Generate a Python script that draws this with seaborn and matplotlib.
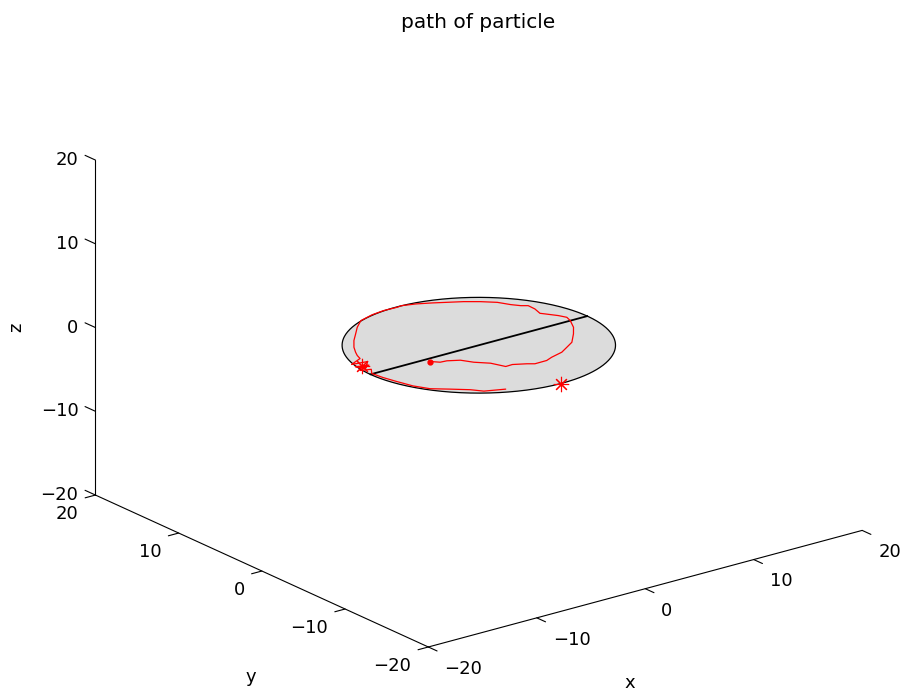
import numpy as np
import matplotlib
matplotlib.use("Agg")
import matplotlib.pyplot as plt
import seaborn as sns
from mpl_toolkits.mplot3d import proj3d
from mpl_toolkits.mplot3d.art3d import Poly3DCollection

sns.set_style("white")
plt.rcParams["font.family"] = ["DejaVu Sans"]
plt.rcParams["text.color"] = "black"

# ---- axes ranges and ticks -------------------------------------------------
axis_lo, axis_hi = -20, 20
tick_values = [-20, -10, 0, 10, 20]
tick_labels = ["\u221220", "\u221210", "0", "10", "20"]

# ---- circular domain at z = 0 ----------------------------------------------
disc_radius = 10.0
disc_z = 0.0

# diameter drawn across the disc
diam_x = [-10.0, 10.0]
diam_y = [0.0, 0.0]

# ---- particle path (starts at the dot) -------------------------------------
path_x = [-4.89, -4.40, -3.83, -2.97, -2.45, -1.60, -1.14, -0.50, 0.43, 0.90,
          2.00, 2.71, 3.93, 4.86, 5.78, 6.94, 7.78, 8.44, 8.66, 8.39,
          7.83, 7.61, 7.87, 7.90, 7.47, 7.02, 6.53, 5.64, 4.67, 3.61,
          2.67, 1.61, 0.55, 0.10, -1.12, -2.32, -3.72, -4.77, -5.70, -6.65,
          -7.50, -8.04, -8.36, -8.58, -9.83, -8.52, -9.52, -9.90, -8.90, -10.10,
          -9.30, -9.80, -9.67, -9.38, -8.99, -8.35, -7.24, -6.14, -5.54, -4.02]
path_y = [-0.53, -1.09, -1.16, -1.66, -2.59, -3.50, -4.72, -4.69, -5.21, -5.57,
          -5.55, -5.23, -4.85, -4.25, -3.65, -2.33, -1.24, 0.01, 0.71, 1.37,
          2.24, 2.57, 3.52, 4.36, 4.69, 5.31, 6.28, 7.15, 7.90, 8.53,
          9.09, 9.64, 10.00, 9.93, 9.98, 9.80, 9.33, 8.39, 7.37, 6.34,
          5.23, 4.33, 3.71, 3.09, 2.48, 2.25, 1.19, 1.90, 1.60, 1.10,
          0.80, 0.09, -1.06, -2.34, -3.81, -5.04, -6.00, -7.00, -7.83, -8.47]

# boundary hits marked with asterisks
hit_x = [-9.50, -0.10]
hit_y = [1.70, -10.00]

# ---- figure ----------------------------------------------------------------
W_PX, H_PX = 903, 693
fig = plt.figure(figsize=(W_PX / 100, H_PX / 100), dpi=100)
fig.patch.set_facecolor("white")
ax = fig.add_axes([0.1, 0.1, 0.8 * H_PX / W_PX, 0.8], projection="3d",
                  proj_type="ortho", computed_zorder=False)
ax.view_init(elev=20.5, azim=-127.5)
ax.set_box_aspect((1, 1, 0.654))
ax.set_xlim(axis_lo, axis_hi)
ax.set_ylim(axis_lo, axis_hi)
ax.set_zlim(axis_lo, axis_hi)
ax.set_axis_off()

# disc
theta = np.linspace(0, 2 * np.pi, 361)
cx = disc_radius * np.cos(theta)
cy = disc_radius * np.sin(theta)
cz = np.full_like(cx, disc_z)
disc = Poly3DCollection([list(zip(cx, cy, cz))], facecolor="#dcdcdc",
                        edgecolor="none", zorder=1)
ax.add_collection3d(disc)
ax.plot(cx, cy, cz, color="black", lw=0.9, zorder=2)
ax.plot(diam_x, diam_y, [disc_z, disc_z], color="black", lw=1.3, zorder=3)

# particle path and markers
pz = [disc_z] * len(path_x)
ax.plot(path_x, path_y, pz, color="red", lw=0.9, zorder=4)
ax.plot([path_x[0]], [path_y[0]], [disc_z], marker="o", ms=3.5,
        color="red", zorder=5)
ax.plot(hit_x, hit_y, [disc_z] * len(hit_x), ls="none", marker=(8, 2, 0),
        ms=11, mew=0.8, color="red", zorder=5)

# ---- box axes: x along front edge, y along left edge, z on the back-left ---
lo, hi = axis_lo, axis_hi
axis_kw = dict(color="black", lw=0.8, zorder=6, clip_on=False)
ax.plot([lo, hi], [lo, lo], [lo, lo], **axis_kw)
ax.plot([lo, lo], [lo, hi], [lo, lo], **axis_kw)
ax.plot([lo, lo], [hi, hi], [lo, hi], **axis_kw)

fs = 13
labels3d = []   # (x, y, z, text, ha, va, rotation, size)
for v, lab in zip(tick_values, tick_labels):
    # x ticks point toward -y
    ax.plot([v, v], [lo, lo - 1.05], [lo, lo], **axis_kw)
    labels3d.append((v, lo - 1.92, lo - 1.75, lab, "left", "center", 0, fs))
    # y ticks point toward -x
    ax.plot([lo, lo - 0.95], [v, v], [lo, lo], **axis_kw)
    labels3d.append((lo - 1.57, v, lo - 1.73, lab, "right", "center", 0, fs))
    # z ticks point toward +y
    ax.plot([lo, lo], [hi, hi + 1.25], [v, v], **axis_kw)
    labels3d.append((lo - 0.99, hi + 0.75, v, lab, "right", "center", 0, fs))

labels3d.append((-1.38, lo, lo - 10.75, "x", "center", "center", 0, fs))
labels3d.append((lo, 1.32, lo - 13.25, "y", "center", "center", 0, fs))
labels3d.append((lo - 4.6, hi + 3.49, 0, "z", "center", "center", 90, fs))

fig.text(478 / W_PX, 1 - 28 / H_PX, "path of particle", ha="center",
         va="baseline", fontsize=14.5)

# ---- place the plot box on the page ---------------------------------------
box_pts = np.array([[lo, lo, lo], [hi, lo, lo], [lo, hi, lo], [lo, hi, hi],
                    [10, 0, 0], [-10, 0, 0]], dtype=float)
box_px = np.array([[428, 647], [862, 532], [95, 494], [97, 158],
                   [587, 318], [370, 374]], dtype=float)


def to_display(pts):
    pts = np.asarray(pts, dtype=float)
    X, Y, _ = proj3d.proj_transform(pts[:, 0], pts[:, 1], pts[:, 2],
                                    ax.get_proj())
    return ax.transData.transform(np.column_stack([X, Y]))


fig.canvas.draw()
cur = to_display(box_pts)
bb = ax.bbox
c_old = np.array([bb.x0 + bb.width / 2, bb.y0 + bb.height / 2])
tgt = np.column_stack([box_px[:, 0], H_PX - box_px[:, 1]])
rows, rhs = [], []
for (px, py), (tx, ty) in zip(cur, tgt):
    rows.append([1, 0, px - c_old[0]]); rhs.append(tx)
    rows.append([0, 1, py - c_old[1]]); rhs.append(ty)
ncx, ncy, f = np.linalg.lstsq(np.array(rows), np.array(rhs), rcond=None)[0]
side = f * bb.width
ax.set_position([(ncx - side / 2) / W_PX, (ncy - side / 2) / H_PX,
                 side / W_PX, side / H_PX])
fig.canvas.draw()

# tick and axis labels, anchored at their projected 3D positions
lab_disp = to_display([l[:3] for l in labels3d])
for (x, y, z, s, ha, va, rot, size), (dx, dy) in zip(labels3d, lab_disp):
    fig.text(dx / W_PX, dy / H_PX, s, ha=ha, va=va, rotation=rot,
             fontsize=size)

fig.savefig("out.png", dpi=100, facecolor="white")
